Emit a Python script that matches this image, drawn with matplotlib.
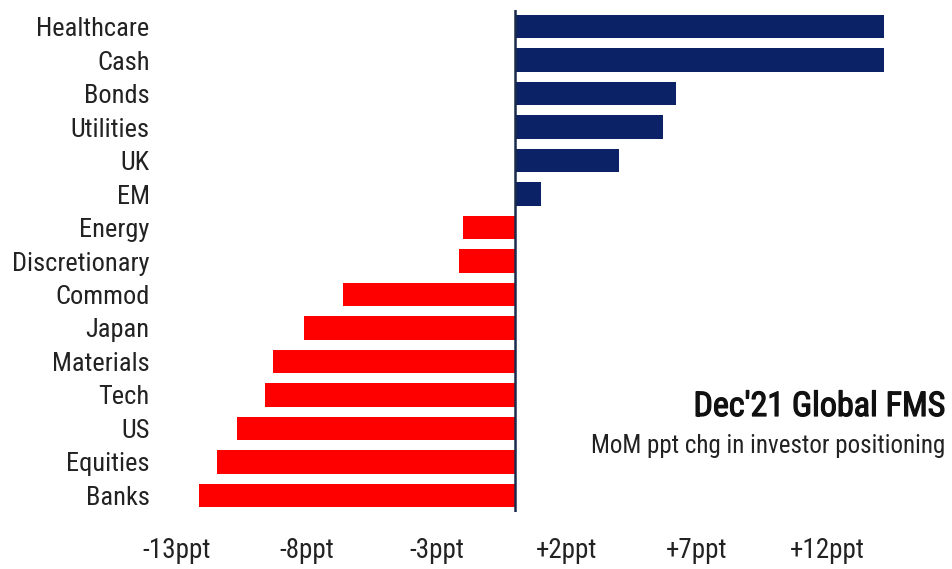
import matplotlib
matplotlib.use("Agg")
import matplotlib.pyplot as plt
import matplotlib.patheffects as pe

# Month-on-month change in investor positioning (ppt), Dec'21 Global FMS
categories = ["Healthcare", "Cash", "Bonds", "Utilities", "UK", "EM", "Energy",
              "Discretionary", "Commod", "Japan", "Materials", "Tech", "US",
              "Equities", "Banks"]
values = [14.2, 14.2, 6.2, 5.7, 4.0, 1.0, -2.0, -2.15, -6.6, -8.1, -9.3, -9.6,
          -10.7, -11.45, -12.15]
tick_values = [-13, -8, -3, 2, 7, 12]
tick_labels = ["-13ppt", "-8ppt", "-3ppt", "+2ppt", "+7ppt", "+12ppt"]

NAVY = "#0b2266"
RED = "#ff0000"
FONT = ["Roboto Condensed", "Roboto", "DejaVu Sans"]
plt.rcParams["font.family"] = FONT

fig = plt.figure(figsize=(9.52, 5.69), dpi=100)
ax = fig.add_axes([151 / 952, 1 - 512 / 569, 780 / 952, 502 / 569])

colors = [NAVY if v >= 0 else RED for v in values]
ax.barh(range(len(categories)), values, height=0.7, color=colors)
ax.axvline(0, color="#1a2a4a", lw=1.8)

ax.set_xlim(-14, 16)
ax.set_ylim(len(categories) - 0.5, -0.5)
ax.set_yticks(range(len(categories)))
ax.set_yticklabels(categories, fontsize=19, color="#222222")
ax.set_xticks(tick_values)
ax.set_xticklabels(tick_labels, fontsize=19.5, color="#222222")
ax.tick_params(axis="both", length=0)
ax.tick_params(axis="y", pad=1)
ax.tick_params(axis="x", pad=18)
for s in ax.spines.values():
    s.set_visible(False)

fig.text(945 / 952, 1 - 407 / 569, "Dec'21 Global FMS", ha="right", va="center",
         fontsize=24.5, color="#111111",
         path_effects=[pe.withStroke(linewidth=0.9, foreground="#111111")])
fig.text(945 / 952, 1 - 446 / 569, "MoM ppt chg in investor positioning",
         ha="right", va="center", fontsize=18, color="#222222")

fig.savefig("out.png", dpi=100, facecolor="white")
